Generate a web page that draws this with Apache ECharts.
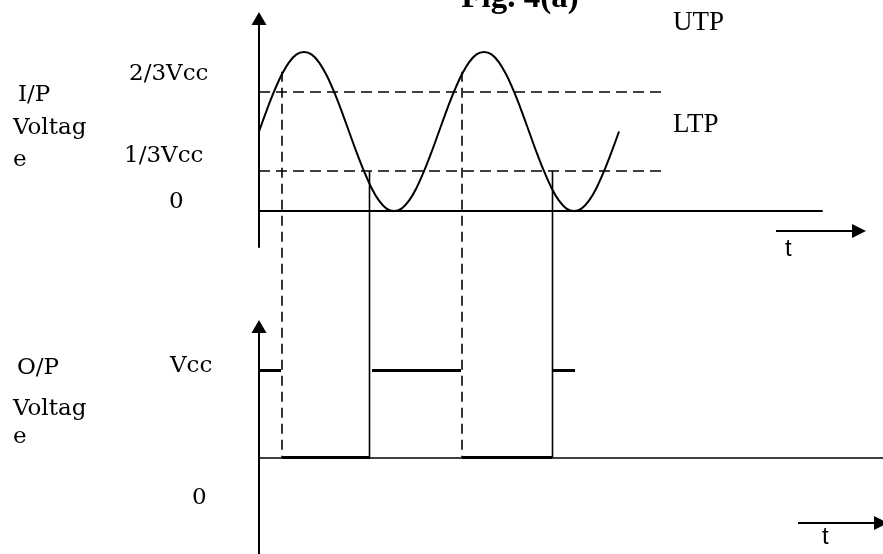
<!DOCTYPE html>
<html>
<head>
<meta charset="utf-8">
<script src="https://cdn.jsdelivr.net/npm/echarts@6/dist/echarts.min.js"></script>
<style>html,body{margin:0;padding:0;background:#fff}#c{width:883px;height:554px}</style>
</head>
<body>
<div id="c"></div>
<script>
// ---- data (time in phase degrees, input in units where the sine spans 0..2, output in Vcc units)
var tIn = [0,15,30,45,60,75,90,105,120,135,150,165,180,195,210,225,240,255,270,285,300,315,330,345,360,
           375,390,405,420,435,450,465,480,495,510,525,540,555,570,585,600,615,630,645,660,675,690,705,720];
var vIn = [1,1.26,1.5,1.71,1.87,1.97,2,1.97,1.87,1.71,1.5,1.26,1,0.74,0.5,0.29,0.13,0.03,0,0.03,0.13,0.29,0.5,0.74,1,
           1.26,1.5,1.71,1.87,1.97,2,1.97,1.87,1.71,1.5,1.26,1,0.74,0.5,0.29,0.13,0.03,0,0.03,0.13,0.29,0.5,0.74,1];
var UTP = 1.5, LTP = 0.5;
var thresholdEnd = 812;
var outHigh = [[0,44],[226,404],[586,632]];   // Vcc intervals
var outLow  = [[46,222],[406,586]];           // 0 intervals
var dashedT = [46,406], dashedTop = [1.75,1.75];   // switching to low (UTP)
var solidT  = [221,587], solidTop = [0.5,0.5];     // switching to high (LTP)
var ipLabels = ['2/3Vcc','1/3Vcc','0'];
var opLabels = ['Vcc','0'];
var sideIn = ['I/P','Voltag','e'];
var sideOut = ['O/P','Voltag','e'];
var title = 'Fig. 4(a)';

var chart = echarts.init(document.getElementById('c'), null, {renderer:'canvas'});
var K = '#000';
function axisX(grid, max, w){
  return {type:'value', gridIndex:grid, min:0, max:max,
    axisLine:{show:true, onZero:true, lineStyle:{color:K, width:w}},
    axisTick:{show:false}, axisLabel:{show:false}, splitLine:{show:false}};
}
function axisY(grid, min, max){
  return {type:'value', gridIndex:grid, min:min, max:max,
    axisLine:{show:true, onZero:false, symbol:['none','triangle'], symbolSize:[15,13], lineStyle:{color:K, width:2}},
    axisTick:{show:false}, axisLabel:{show:false}, splitLine:{show:false}};
}
function seg(list, v){ return list.map(function(s){ return {coords:[[s[0],v],[s[1],v]]}; }); }

var option = {
  animation:false,
  backgroundColor:'#fff',
  grid:[
    {left:259, top:18.5, width:563, height:228.5},
    {left:259, top:326.5, width:624, height:227.5}
  ],
  xAxis:[axisX(0,1126,2), axisX(1,1248,1.5)],
  yAxis:[axisY(0,-0.453,2.421), axisY(1,-1.103,1.497)],
  series:[
    {type:'line', xAxisIndex:0, yAxisIndex:0, smooth:0.3, showSymbol:false,
     lineStyle:{color:K, width:2}, data:tIn.map(function(t,i){return [t,vIn[i]];})},
    {type:'lines', coordinateSystem:'cartesian2d', xAxisIndex:0, yAxisIndex:0,
     lineStyle:{color:K, width:1.5, type:[11,6], opacity:1},
     data:[{coords:[[0,UTP],[thresholdEnd,UTP]]},{coords:[[0,LTP],[thresholdEnd,LTP]]}]},
    {type:'lines', coordinateSystem:'cartesian2d', xAxisIndex:0, yAxisIndex:0, clip:false,
     symbol:['none','triangle'], symbolSize:14,
     lineStyle:{color:K, width:2, opacity:1},
     data:[{coords:[[1034,-0.252],[1200,-0.252]]}]},
    {type:'lines', coordinateSystem:'cartesian2d', xAxisIndex:1, yAxisIndex:1, clip:false,
     lineStyle:{color:K, width:3, opacity:1},
     data:seg(outHigh,1).concat(seg(outLow,0))},
    {type:'lines', coordinateSystem:'cartesian2d', xAxisIndex:1, yAxisIndex:1, clip:false,
     symbol:['none','triangle'], symbolSize:14,
     lineStyle:{color:K, width:2, opacity:1},
     data:[{coords:[[1078,-0.749],[1244,-0.749]]}]}
  ]
};
chart.setOption(option);

function txt(s, x, y, font, align){
  return {type:'text', silent:true, z:100,
    style:{text:s, x:x, y:y, font:font, fill:K, align:align||'left', textAlign:align||'left',
           verticalAlign:'middle', textVerticalAlign:'middle'}};
}
var SERIF = '23px "DejaVu Serif"';
var TIMES = '27px "Liberation Serif"';
var SANS = '24px "Liberation Sans"';
var g = [];
// connectors spanning both plots
function conn(t, top, dash){
  var p1 = chart.convertToPixel({gridIndex:0}, [t, top]);
  var p2 = chart.convertToPixel({gridIndex:1}, [t, 0]);
  g.push({type:'line', silent:true, z:50, shape:{x1:p1[0], y1:p1[1], x2:p2[0], y2:p2[1]},
    style:{stroke:K, lineWidth:1.6, lineDash:dash}});
}
dashedT.forEach(function(t,i){ conn(t, dashedTop[i], [10,6]); });
solidT.forEach(function(t,i){ conn(t, solidTop[i], null); });

g.push(txt(sideIn[0], 18, 95, SERIF));
g.push(txt(sideIn[1], 13, 128, SERIF));
g.push(txt(sideIn[2], 13, 160, SERIF));
g.push(txt(ipLabels[0], 129, 74, SERIF));
g.push(txt(ipLabels[1], 124, 156, SERIF));
g.push(txt(ipLabels[2], 169, 202, SERIF));
g.push(txt(sideOut[0], 17, 368, SERIF));
g.push(txt(sideOut[1], 13, 409, SERIF));
g.push(txt(sideOut[2], 13, 437, SERIF));
g.push(txt(opLabels[0], 170, 366, SERIF));
g.push(txt(opLabels[1], 192, 498, SERIF));
g.push(txt('UTP', 673, 23, TIMES));
g.push(txt('LTP', 673, 125, TIMES));
g.push(txt('t', 785, 249, SANS));
g.push(txt('t', 822, 537, SANS));
g.push(txt(title, 520, -2, 'bold 33px "Liberation Serif"', 'center'));
chart.setOption({graphic:{elements:g}});
</script>
</body>
</html>
